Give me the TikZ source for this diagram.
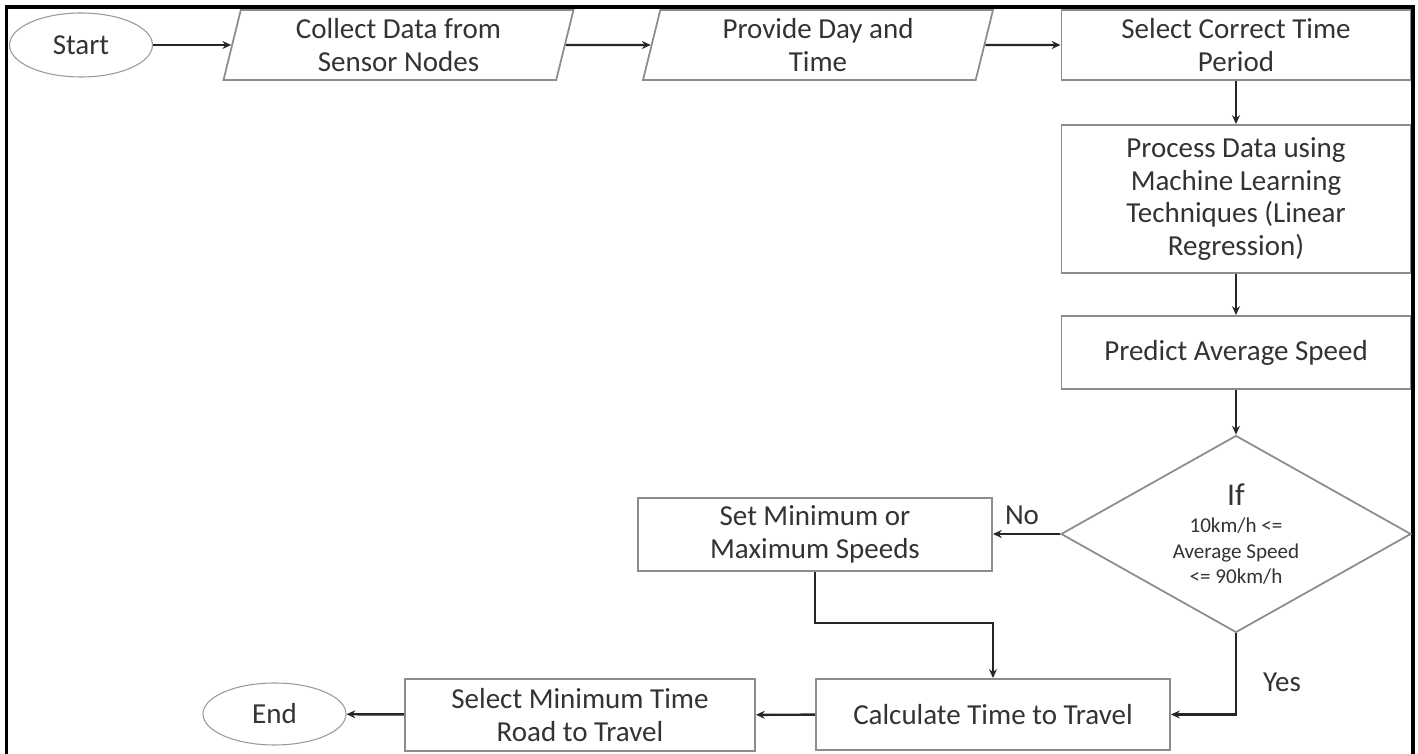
\documentclass[tikz,border=0pt]{standalone}
\usepackage{fontspec}
\setmainfont{Carlito}
\usetikzlibrary{shapes.geometric,arrows.meta}
\begin{document}
\begin{tikzpicture}[every node/.style={font=\fontsize{16.5}{18.5}\selectfont,text=black!80}]
  \tikzstyle{term}=[draw=black!40,ellipse,line width=0.6pt,minimum width=2.86cm,minimum height=1.28cm]
  \tikzstyle{io}=[draw=black!45,line width=1pt,trapezium,trapezium left angle=75,trapezium right angle=105,trapezium stretches body,minimum width=7.0cm,minimum height=1.4cm,align=center]
  \tikzstyle{proc}=[draw=black!45,line width=1.1pt,minimum width=6.98cm,minimum height=1.44cm,align=center]
  \tikzstyle{dec}=[draw=black!45,line width=1pt,diamond,aspect=1.78,inner sep=0pt,minimum width=7.0cm,minimum height=3.94cm,align=center,font=\fontsize{12}{14.5}\selectfont]
  \tikzstyle{arr}=[-{Stealth[length=5pt,width=4.5pt]},line width=1.4pt,black!85]
  \useasboundingbox (0,0) rectangle (28.36,-15.08);
  % frame, open at the bottom
  \draw[line width=2pt] (0.13,-15.2) -- (0.13,-0.14) -- (28.26,-0.14) -- (28.26,-15.2);
  % top row
  \node[term] (start) at (1.62,-0.90) {Start};
  \node[io] (collect) at (7.97,-0.90) {Collect Data from\\Sensor Nodes};
  \node[io] (provide) at (16.36,-0.90) {Provide Day and\\Time};
  \node[proc,minimum height=1.4cm] (period) at (24.72,-0.90) {Select Correct Time\\Period};
  % right column
  \node[proc,minimum height=2.96cm] (process) at (24.72,-3.98) {Process Data using\\Machine Learning\\Techniques (Linear\\Regression)};
  \node[proc,minimum height=1.46cm] (predict) at (24.72,-7.05) {Predict Average Speed};
  \node[dec] (cond) at (24.72,-10.68) {{\fontsize{18}{20}\selectfont If}\\[1pt]10km/h <=\\Average Speed\\<= 90km/h};
  % bottom part
  \node[proc,minimum width=7.08cm,minimum height=1.46cm] (setspd) at (16.30,-10.69) {Set Minimum or\\Maximum Speeds};
  \node[proc,minimum width=7.08cm,minimum height=1.42cm] (calc) at (19.86,-14.29) {Calculate Time to Travel};
  \node[proc,minimum width=7.0cm] (selmin) at (11.60,-14.30) {Select Minimum Time\\Road to Travel};
  \node[term,minimum height=1.24cm] (stop) at (5.49,-14.28) {End};
  \coordinate (bend) at (16.30,-12.46);
  \node (no) at (20.44,-10.30) {No};
  \node (yes) at (25.64,-13.64) {Yes};
  % connectors
  \draw[arr] (start) -- (collect);
  \draw[arr] (collect) -- (provide);
  \draw[arr] (provide) -- (period);
  \draw[arr] (period) -- (process);
  \draw[arr] (process) -- (predict);
  \draw[arr] (predict) -- (cond);
  \draw[arr] (cond.west) -- (cond.west -| setspd.east);
  \draw[arr] (setspd.south) -- (bend) -| (calc.north);
  \draw[arr] (cond.south) |- (calc.east);
  \draw[arr] (calc) -- (selmin);
  \draw[arr] (selmin) -- (stop);
\end{tikzpicture}
\end{document}
